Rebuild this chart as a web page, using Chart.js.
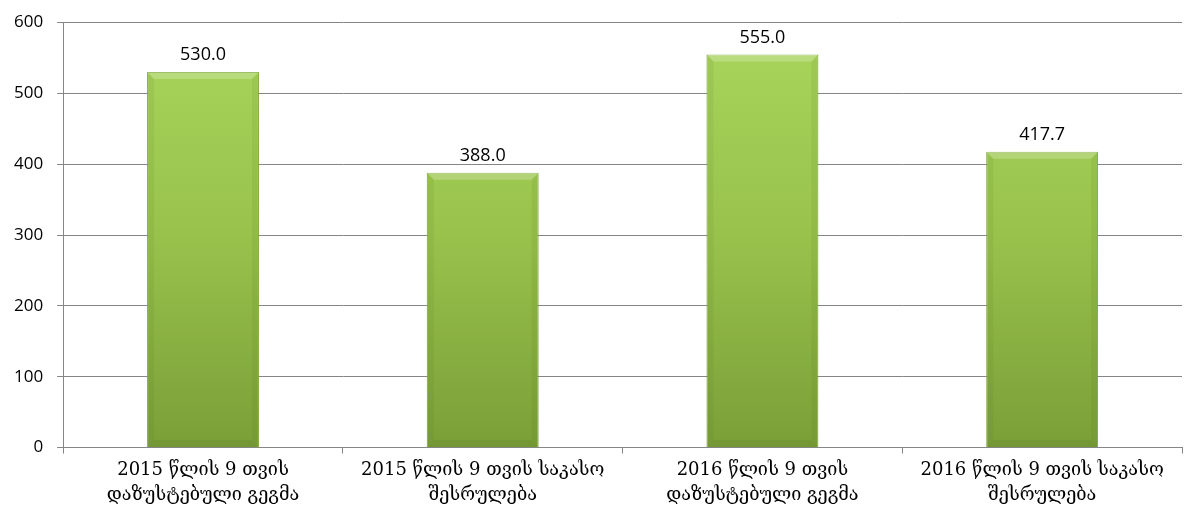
<!DOCTYPE html>
<html>
<head>
<meta charset="utf-8">
<script src="https://cdn.jsdelivr.net/npm/chart.js@4"></script>
<style>
  html, body { margin: 0; padding: 0; background: #fff; }
  #wrap { width: 1187px; height: 517px; position: relative; }
</style>
</head>
<body>
<div id="wrap"><canvas id="c"></canvas></div>
<script>
// chart data
const categories = [
  ['2015 წლის 9 თვის', 'დაზუსტებული გეგმა'],
  ['2015 წლის 9 თვის საკასო', 'შესრულება'],
  ['2016 წლის 9 თვის', 'დაზუსტებული გეგმა'],
  ['2016 წლის 9 თვის საკასო', 'შესრულება']
];
const values = [530.0, 388.0, 555.0, 417.7];
const yTicks = [0, 100, 200, 300, 400, 500, 600];

// green bar with vertical gradient
function barFill(ctx) {
  const chart = ctx.chart;
  const area = chart.chartArea;
  if (!area) return '#9bc94f';
  const g = chart.ctx.createLinearGradient(0, area.top, 0, area.bottom);
  g.addColorStop(0, '#a9d65c');
  g.addColorStop(0.5, '#98c24c');
  g.addColorStop(1, '#7a9f38');
  return g;
}

// soft bevel on each bar + value labels above
const barExtras = {
  id: 'barExtras',
  afterDatasetsDraw(chart) {
    const { ctx } = chart;
    const meta = chart.getDatasetMeta(0);
    ctx.save();
    meta.data.forEach((bar) => {
      const w = bar.width, l = bar.x - w / 2, r = bar.x + w / 2;
      const t = bar.y, b = bar.base, e = 7;
      // top highlight
      ctx.fillStyle = 'rgba(255,255,255,0.22)';
      ctx.beginPath();
      ctx.moveTo(l, t); ctx.lineTo(r, t); ctx.lineTo(r - e, t + e); ctx.lineTo(l + e, t + e);
      ctx.closePath(); ctx.fill();
      // side shading
      ctx.fillStyle = 'rgba(60,90,10,0.08)';
      ctx.beginPath();
      ctx.moveTo(l, t); ctx.lineTo(l + e, t + e); ctx.lineTo(l + e, b - e); ctx.lineTo(l, b);
      ctx.closePath(); ctx.fill();
      ctx.beginPath();
      ctx.moveTo(r, t); ctx.lineTo(r - e, t + e); ctx.lineTo(r - e, b - e); ctx.lineTo(r, b);
      ctx.closePath(); ctx.fill();
      // bottom shading
      ctx.fillStyle = 'rgba(60,90,10,0.10)';
      ctx.beginPath();
      ctx.moveTo(l, b); ctx.lineTo(l + e, b - e); ctx.lineTo(r - e, b - e); ctx.lineTo(r, b);
      ctx.closePath(); ctx.fill();
    });
    ctx.font = "18px 'Open Sans', 'DejaVu Sans', sans-serif";
    ctx.fillStyle = '#000';
    ctx.textAlign = 'center';
    ctx.textBaseline = 'bottom';
    meta.data.forEach((bar, i) => {
      ctx.fillText(values[i].toFixed(1), bar.x, bar.y - 8);
    });
    ctx.restore();
  }
};

new Chart(document.getElementById('c'), {
  type: 'bar',
  data: {
    labels: categories,
    datasets: [{
      data: values,
      backgroundColor: barFill,
      borderColor: '#86ad42',
      borderWidth: 1,
      barPercentage: 0.4,
      categoryPercentage: 1.0
    }]
  },
  options: {
    responsive: true,
    maintainAspectRatio: false,
    animation: false,
    layout: { padding: { top: 20, right: 5, left: 0, bottom: 5 } },
    plugins: {
      legend: { display: false },
      tooltip: { enabled: false }
    },
    scales: {
      x: {
        grid: { display: true, drawOnChartArea: false, offset: true, color: '#868686', tickLength: 6 },
        border: { color: '#868686', width: 1 },
        ticks: {
          color: '#000',
          font: { family: "'DejaVu Serif', serif", size: 18, lineHeight: 1.4 },
          maxRotation: 0,
          padding: 4
        }
      },
      y: {
        min: 0,
        max: 600,
        afterBuildTicks: (axis) => { axis.ticks = yTicks.map(v => ({ value: v })); },
        grid: { color: '#868686', tickLength: 6 },
        border: { color: '#868686', width: 1 },
        ticks: {
          color: '#000',
          font: { family: "'Open Sans', 'DejaVu Sans', sans-serif", size: 17, lineHeight: 1 },
          padding: 14
        }
      }
    }
  },
  plugins: [barExtras]
});
</script>
</body>
</html>
